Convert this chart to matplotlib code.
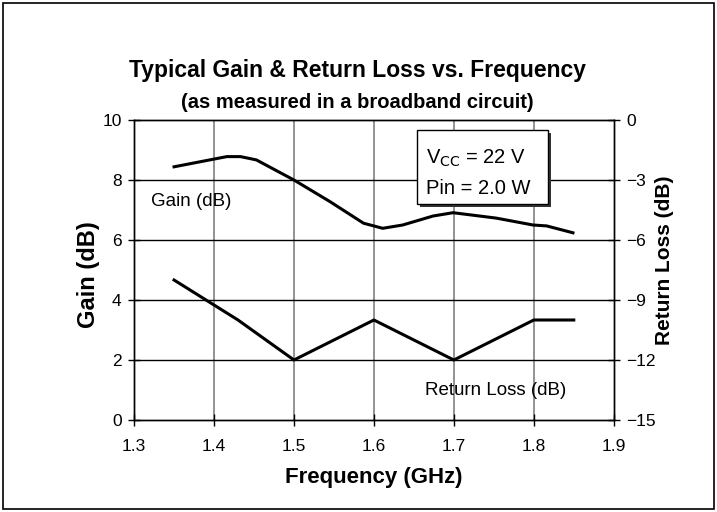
import matplotlib.pyplot as plt
from matplotlib.patches import Rectangle

plt.rcParams['font.family'] = ['Liberation Sans', 'DejaVu Sans']

# gain curve (left axis, dB)
gain_freq = [1.35, 1.416, 1.433, 1.453, 1.50, 1.545, 1.587, 1.611, 1.636,
             1.674, 1.699, 1.753, 1.799, 1.816, 1.849]
gain_db = [8.44, 8.78, 8.78, 8.67, 8.0, 7.28, 6.56, 6.39, 6.5,
           6.8, 6.91, 6.73, 6.5, 6.47, 6.24]

# return loss curve (right axis, dB)
rl_freq = [1.35, 1.43, 1.50, 1.60, 1.70, 1.80, 1.85]
rl_db = [-8, -10, -12, -10, -12, -10, -10]

x_ticks = [1.3, 1.4, 1.5, 1.6, 1.7, 1.8, 1.9]
gain_ticks = [0, 2, 4, 6, 8, 10]
rl_ticks = [-15, -12, -9, -6, -3, 0]

fig = plt.figure(figsize=(7.17, 5.12), dpi=100)
ax = fig.add_axes([0.187, 0.1797, 0.669, 0.5859])
ax2 = ax.twinx()

ax.set_xlim(1.3, 1.9)
ax.set_ylim(0, 10)
ax2.set_ylim(-15, 0)

ax.set_xticks(x_ticks)
ax.set_xticklabels([f"{t:.1f}" for t in x_ticks])
ax.set_yticks(gain_ticks)
ax2.set_yticks(rl_ticks)

for x in x_ticks[1:-1]:
    ax.axvline(x, color='#808080', lw=1.2, zorder=1)
for y in gain_ticks[1:-1]:
    ax.axhline(y, color='black', lw=1.0, zorder=1)

ax.plot(gain_freq, gain_db, color='black', lw=2.2, zorder=3)
ax2.plot(rl_freq, rl_db, color='black', lw=2.2, zorder=3)

for a in (ax, ax2):
    a.tick_params(direction='inout', length=8, width=1, labelsize=12.5, colors='black')
    for s in a.spines.values():
        s.set_linewidth(1.0)
ax.tick_params(axis='x', pad=10)
ax.tick_params(axis='y', pad=5)
ax2.tick_params(axis='y', pad=5)

ax.set_xlabel("Frequency (GHz)", fontsize=16, fontweight='bold')
ax.xaxis.set_label_coords(0.5, -0.158)
ax.set_ylabel("Gain (dB)", fontsize=17, fontweight='bold')
ax.yaxis.set_label_coords(-0.071, 0.483)
ax2.set_ylabel("Return Loss (dB)", fontsize=15, fontweight='bold')
ax2.yaxis.set_label_coords(1.087, 0.533)

ax.text(1.321, 7.27, "Gain (dB)", fontsize=13.5, ha='left', va='center', zorder=4)
ax2.text(1.841, -13.55, "Return Loss (dB)", fontsize=13.5, ha='right', va='center', zorder=4)

# conditions box with drop shadow
bx0, by0, bw, bh = 1.654, 7.2, 0.164, 2.47
ax.add_patch(Rectangle((bx0 + 0.004, by0 - 0.1), bw, bh, facecolor='#333333',
                       edgecolor='none', zorder=5))
ax.add_patch(Rectangle((bx0, by0), bw, bh, facecolor='white',
                       edgecolor='black', lw=1.0, zorder=6))
ax.text(bx0 + 0.011, by0 + bh * 0.62, r"V$_{\mathrm{CC}}$ = 22 V", fontsize=14.5,
        ha='left', va='center', zorder=7)
ax.text(bx0 + 0.011, by0 + bh * 0.215, "Pin = 2.0 W", fontsize=14.5,
        ha='left', va='center', zorder=7)

fig.text(0.499, 0.862, "Typical Gain & Return Loss vs. Frequency", fontsize=16.5,
         fontweight='bold', ha='center', va='center')
fig.text(0.499, 0.799, "(as measured in a broadband circuit)", fontsize=14.5,
         fontweight='bold', ha='center', va='center')

fig.add_artist(Rectangle((0.004, 0.006), 0.992, 0.988, transform=fig.transFigure,
                         fill=False, edgecolor='black', lw=1.2))

fig.savefig("out.png", dpi=100, facecolor='white')
